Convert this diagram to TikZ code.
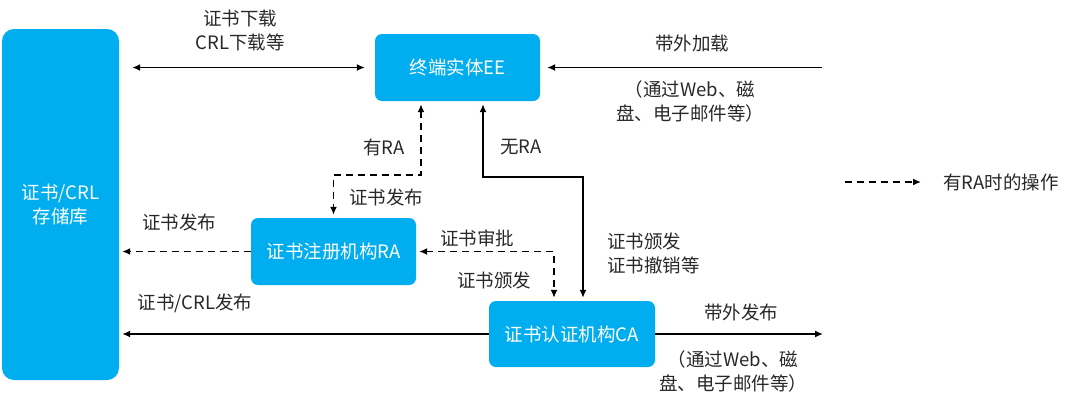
\documentclass[tikz,border=0pt]{standalone}
\usepackage{fontspec}
\newfontfamily\cjk{Noto Sans CJK SC}
\usepackage{xcolor}
\usepackage{tikz}
\usetikzlibrary{arrows.meta,positioning}
\definecolor{unitblue}{RGB}{0,174,239}
\definecolor{notegray}{RGB}{40,40,40}

\begin{document}
\begin{tikzpicture}[
  x=1pt,y=-1pt,
  >={Latex[length=8pt,width=7pt]},
  every node/.style={font=\cjk\fontsize{18.5}{24}\selectfont},
  unit/.style={fill=unitblue,rounded corners=7pt,text=white,align=center,
    minimum width=165pt,minimum height=67pt,inner sep=0pt},
  note/.style={text=notegray,align=center,inner sep=0pt},
  flow/.style={line width=1.5pt},
  raflow/.style={flow,dash pattern=on 7pt off 5pt}
]
\useasboundingbox (0,0) rectangle (1080,405);
\node[unit,minimum width=117pt,minimum height=351pt,rounded corners=12pt] (repo) at (60.5,204.5) {证书/CRL\\存储库};
\node[unit] (ee) at (457.5,67.5) {终端实体EE};
\node[unit] (ra) at (333.5,251.5) {证书注册机构RA};
\node[unit,minimum width=166pt,minimum height=66pt] (ca) at (572,334) {证书认证机构CA};
\coordinate (loadin) at (822,67.5);
\coordinate (pubout) at (823,334);
\coordinate (hasrabend) at (421,175);
\coordinate (norabend) at (483,177);
\coordinate (catop) at (583,177);
\coordinate (approvebend) at (554,251.5);
\coordinate (keyfrom) at (845,182);
\coordinate (keyto) at (921,182);
\node[note] (dl) at (240,30) {证书下载\\CRL下载等};
\node[note] (loadlbl) at (692,43) {带外加载};
\node[note] (loadvia) at (690,101.5) {（通过Web、磁\\盘、电子邮件等）};
\node[note] (hasra) at (384,147) {有RA};
\node[note] (nora) at (521,147) {无RA};
\node[note] (rapub) at (386,197) {证书发布};
\node[note] (repopub) at (179,222) {证书发布};
\node[note] (approve) at (477,238) {证书审批};
\node[note] (issue) at (494,280) {证书颁发};
\node[note,align=left,anchor=west] (caops) at (607,253.5) {证书颁发\\证书撤销等};
\node[note] (crlpub) at (195,303) {证书/CRL发布};
\node[note] (outlbl) at (741,312) {带外发布};
\node[note] (outvia) at (733,371.5) {（通过Web、磁\\盘、电子邮件等）};
\node[note,anchor=west] (keytext) at (943,182) {有RA时的操作};
\draw[flow,<->,shorten <=13pt,shorten >=10pt] (repo.east |- ee.west) -- (ee.west);
\draw[flow,->,shorten >=7pt] (loadin) -- (ee.east |- loadin);
\draw[raflow,<->,shorten <=3pt,shorten >=3pt] (hasrabend |- ee.south) -- (hasrabend) -| (ra.north);
\draw[flow,<->,shorten <=3pt,shorten >=3pt] (norabend |- ee.south) -- (norabend) -- (catop) -- (catop |- ca.north);
\draw[raflow,<->,shorten <=3pt,shorten >=3pt] (ra.east) -- (approvebend) -- (approvebend |- ca.north);
\draw[raflow,->,shorten >=3pt] (ra.west) -- (repo.east |- ra.west);
\draw[flow,->,shorten >=3pt] (ca.west) -- (repo.east |- ca.west);
\draw[flow,->] (ca.east) -- (pubout);
\draw[raflow,->] (keyfrom) -- (keyto);
\end{tikzpicture}
\end{document}
